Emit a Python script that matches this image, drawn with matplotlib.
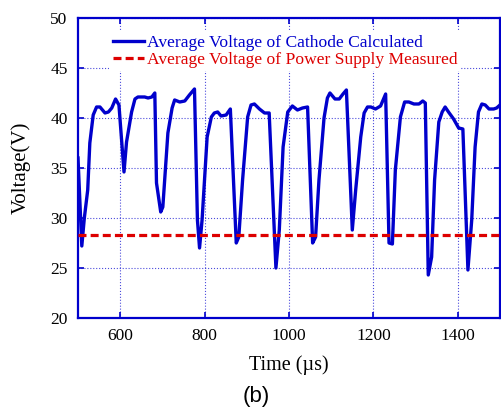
import numpy as np
import matplotlib.pyplot as plt

# Time (us) and average cathode voltage (V)
time_us = [500, 509, 515, 523, 528, 536, 544, 552, 564, 572, 580, 589, 597,
           609, 615, 627, 635, 642, 658, 666, 675, 682, 686, 696, 701, 713,
           723, 729, 741, 753, 764, 776, 783, 788, 794, 806, 816, 823, 831,
           839, 851, 861, 875, 881, 890, 902, 910, 918, 930, 942, 953, 969,
           977, 986, 997, 1008, 1020, 1032, 1044, 1056, 1063, 1071, 1083,
           1091, 1097, 1109, 1119, 1128, 1136, 1150, 1158, 1170, 1178, 1186,
           1194, 1205, 1217, 1229, 1237, 1245, 1252, 1264, 1274, 1284, 1296,
           1308, 1317, 1323, 1330, 1338, 1345, 1355, 1363, 1370, 1378, 1390,
           1402, 1412, 1424, 1433, 1441, 1449, 1457, 1465, 1474, 1485, 1492,
           1500]
v_cathode = [36.0, 27.2, 30.0, 32.8, 37.5, 40.3, 41.1, 41.1, 40.5, 40.6, 41.0,
             41.9, 41.3, 34.6, 37.6, 40.6, 41.9, 42.1, 42.1, 42.0, 42.1, 42.5,
             33.5, 30.6, 31.1, 38.5, 41.0, 41.8, 41.6, 41.7, 42.3, 42.9, 29.8,
             27.0, 29.8, 38.1, 40.1, 40.5, 40.6, 40.2, 40.3, 40.9, 27.5, 28.1,
             33.8, 40.1, 41.3, 41.4, 40.9, 40.5, 40.5, 25.0, 28.8, 37.1, 40.6,
             41.2, 40.8, 41.0, 41.1, 27.5, 28.1, 33.8, 40.0, 42.0, 42.5, 41.9,
             41.9, 42.4, 42.8, 28.8, 32.8, 38.1, 40.5, 41.1, 41.1, 40.9, 41.2,
             42.4, 27.5, 27.4, 34.8, 40.1, 41.6, 41.6, 41.4, 41.4, 41.7, 41.5,
             24.3, 26.1, 33.8, 39.6, 40.6, 41.1, 40.6, 39.9, 39.0, 38.9, 24.8,
             29.8, 37.1, 40.6, 41.4, 41.3, 40.9, 40.9, 41.0, 41.3]
v_supply = 28.25

x_ticks = [600, 800, 1000, 1200, 1400]
y_ticks = [20, 25, 30, 35, 40, 45, 50]

blue = '#0000cc'
red = '#dd0000'
serif = 'Liberation Serif'

fig = plt.figure(figsize=(5.01, 4.07), dpi=100)
ax = fig.add_axes([0.1557, 0.2187, 0.8423, 0.7371])

ax.plot(time_us, v_cathode, color=blue, lw=2.4,
        label='Average Voltage of Cathode Calculated', zorder=3)
ax.axhline(v_supply, color=red, lw=2.3, dashes=(2.5, 1.3),
           label='Average Voltage of Power Supply Measured', zorder=4)

ax.set_xlim(500, 1500)
ax.set_ylim(20, 50)
ax.set_xticks(x_ticks)
ax.set_yticks(y_ticks)
ax.grid(True, color=blue, ls=':', lw=0.8, alpha=0.7)

for s in ax.spines.values():
    s.set_color(blue)
    s.set_linewidth(1.6)
ax.tick_params(direction='in', color=blue, length=4, width=1.2,
               top=True, right=True, labelsize=12.5, pad=7.5)
for lab in ax.get_xticklabels() + ax.get_yticklabels():
    lab.set_fontfamily(serif)

ax.set_xlabel('Time (\u00b5s)', fontsize=14.5, family=serif, labelpad=8)
ax.set_ylabel('Voltage(V)', fontsize=15, family=serif, labelpad=14)

leg = ax.legend(loc='upper left', bbox_to_anchor=(0.053, 0.985),
                frameon=True, fancybox=False, edgecolor='none',
                framealpha=1, handlelength=1.8, handletextpad=0.15,
                borderpad=0.2, labelspacing=0.03,
                prop={'family': serif, 'size': 12.6})
for txt, c in zip(leg.get_texts(), [blue, red]):
    txt.set_color(c)

fig.text(0.511, 0.026, '(b)', ha='center', va='center', fontsize=16,
         family='Liberation Sans')

fig.savefig('out.png', dpi=100)
